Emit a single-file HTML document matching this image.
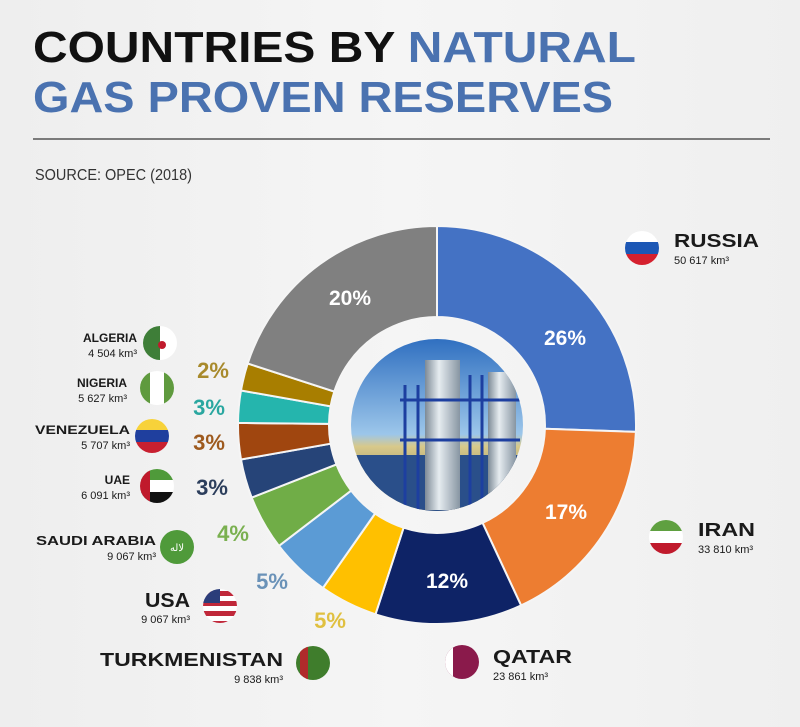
<!DOCTYPE html>
<html><head><meta charset="utf-8"><style>
html,body{margin:0;padding:0;background:#f1f1f1;}
svg{display:block;font-family:"Liberation Sans",sans-serif;}
</style></head><body>
<svg width="800" height="727" viewBox="0 0 800 727" xmlns="http://www.w3.org/2000/svg">
<defs>
<linearGradient id="bg" x1="0" x2="1"><stop offset="0" stop-color="#eeeeee"/><stop offset="0.5" stop-color="#f5f5f5"/><stop offset="1" stop-color="#efefef"/></linearGradient>
<linearGradient id="sky" x1="0" y1="0" x2="0" y2="1"><stop offset="0" stop-color="#2f6fc0"/><stop offset="0.55" stop-color="#9cc6ea"/><stop offset="0.62" stop-color="#d8c98a"/><stop offset="1" stop-color="#6b6a55"/></linearGradient>
<linearGradient id="tank" x1="0" x2="1"><stop offset="0" stop-color="#7d8a96"/><stop offset="0.4" stop-color="#e6ecf0"/><stop offset="1" stop-color="#8795a2"/></linearGradient>
<clipPath id="ci"><circle cx="437" cy="425" r="86"/></clipPath>
<clipPath id="fRU"><circle cx="642" cy="248" r="17"/></clipPath>
<clipPath id="fIR"><circle cx="666" cy="537" r="17"/></clipPath>
<clipPath id="fQA"><circle cx="462" cy="662" r="17"/></clipPath>
<clipPath id="fTM"><circle cx="313" cy="663" r="17"/></clipPath>
<clipPath id="fUS"><circle cx="220" cy="606" r="17"/></clipPath>
<clipPath id="fAE"><circle cx="157" cy="486" r="17"/></clipPath>
<clipPath id="fVE"><circle cx="152" cy="436" r="17"/></clipPath>
<clipPath id="fNG"><circle cx="157" cy="388" r="17"/></clipPath>
<clipPath id="fDZ"><circle cx="160" cy="343" r="17"/></clipPath>
</defs>
<rect width="800" height="727" fill="url(#bg)"/>

<text x="33" y="62" font-size="44" font-weight="bold" fill="#111" textLength="603" lengthAdjust="spacingAndGlyphs">COUNTRIES BY <tspan fill="#4a72b0">NATURAL</tspan></text>
<text x="33" y="112" font-size="44" font-weight="bold" fill="#4a72b0" textLength="580" lengthAdjust="spacingAndGlyphs">GAS PROVEN RESERVES</text>
<line x1="33" y1="139" x2="770" y2="139" stroke="#555" stroke-width="1.5"/>
<text x="35" y="180" font-size="16" fill="#333" textLength="157" lengthAdjust="spacingAndGlyphs">SOURCE: OPEC (2018)</text>

<g stroke="#f5f5f5" stroke-width="2">
<path d="M437,226 A199,199 0 0 1 635.9,431.9 L544.9,428.8 A108,108 0 0 0 437,317 Z" fill="#4472c4"/>
<path d="M635.9,431.9 A199,199 0 0 1 521.1,605.4 L482.6,522.9 A108,108 0 0 0 544.9,428.8 Z" fill="#ed7d31"/>
<path d="M521.1,605.4 A199,199 0 0 1 375.5,614.3 L403.6,527.7 A108,108 0 0 0 482.6,522.9 Z" fill="#0e2366"/>
<path d="M375.5,614.3 A199,199 0 0 1 322.9,588.0 L375.1,513.5 A108,108 0 0 0 403.6,527.7 Z" fill="#ffc000"/>
<path d="M322.9,588.0 A199,199 0 0 1 278.9,545.9 L351.2,490.6 A108,108 0 0 0 375.1,513.5 Z" fill="#5b9bd5"/>
<path d="M278.9,545.9 A199,199 0 0 1 251.7,497.6 L336.4,464.4 A108,108 0 0 0 351.2,490.6 Z" fill="#70ad47"/>
<path d="M251.7,497.6 A199,199 0 0 1 241.0,459.5 L330.6,443.7 A108,108 0 0 0 336.4,464.4 Z" fill="#264478"/>
<path d="M241.0,459.5 A199,199 0 0 1 238.0,422.9 L329.0,423.9 A108,108 0 0 0 330.6,443.7 Z" fill="#a0460f"/>
<path d="M238.0,422.9 A199,199 0 0 1 241.0,390.5 L330.6,406.3 A108,108 0 0 0 329.0,423.9 Z" fill="#25b5ad"/>
<path d="M241.0,390.5 A199,199 0 0 1 247.7,363.5 L334.3,391.6 A108,108 0 0 0 330.6,406.3 Z" fill="#a87e00"/>
<path d="M247.7,363.5 A199,199 0 0 1 437,226 L437,317 A108,108 0 0 0 334.3,391.6 Z" fill="#808080"/>
</g>

<g clip-path="url(#ci)">
<rect x="350" y="338" width="175" height="175" fill="url(#sky)"/>
<rect x="350" y="455" width="175" height="60" fill="#2a4f8a"/>
<rect x="425" y="360" width="35" height="150" fill="url(#tank)"/>
<rect x="488" y="372" width="28" height="140" fill="url(#tank)"/>
<g stroke="#1d3fa0" stroke-width="3" fill="none">
<line x1="405" y1="385" x2="405" y2="510"/><line x1="418" y1="385" x2="418" y2="510"/>
<line x1="470" y1="375" x2="470" y2="510"/><line x1="482" y1="375" x2="482" y2="510"/>
<line x1="400" y1="400" x2="520" y2="400"/><line x1="400" y1="440" x2="520" y2="440"/>
</g>
</g>

<g font-weight="bold" fill="#fff" font-size="21" text-anchor="middle">
<text x="350" y="305">20%</text><text x="565" y="345">26%</text><text x="566" y="519">17%</text><text x="447" y="588">12%</text>
</g>
<g font-weight="bold" font-size="22" text-anchor="middle">
<text x="213" y="378" fill="#a88a2c">2%</text>
<text x="209" y="415" fill="#2aa7a0">3%</text>
<text x="209" y="450" fill="#9e5a1e">3%</text>
<text x="212" y="495" fill="#2c3e5c">3%</text>
<text x="233" y="541" fill="#7ab050">4%</text>
<text x="272" y="589" fill="#6a92b8">5%</text>
<text x="330" y="628" fill="#e0c040">5%</text>
</g>

<g clip-path="url(#fRU)"><rect x="620" y="230" width="45" height="12" fill="#fff"/><rect x="620" y="242" width="45" height="12" fill="#1c57b5"/><rect x="620" y="254" width="45" height="14" fill="#d5202e"/></g>
<g clip-path="url(#fIR)"><rect x="645" y="519" width="45" height="12" fill="#5fa040"/><rect x="645" y="531" width="45" height="12" fill="#fff"/><rect x="645" y="543" width="45" height="14" fill="#c01a2c"/></g>
<g clip-path="url(#fQA)"><rect x="440" y="640" width="45" height="45" fill="#8a1a4b"/><rect x="440" y="640" width="13" height="45" fill="#fff"/></g>
<g clip-path="url(#fTM)"><rect x="290" y="640" width="45" height="45" fill="#3f7d2c"/><rect x="300" y="640" width="8" height="45" fill="#b02b2b"/></g>
<g clip-path="url(#fUS)"><rect x="200" y="586" width="45" height="45" fill="#fff"/><rect x="200" y="591" width="45" height="5" fill="#c0283a"/><rect x="200" y="601" width="45" height="5" fill="#c0283a"/><rect x="200" y="611" width="45" height="5" fill="#c0283a"/><rect x="200" y="621" width="45" height="5" fill="#c0283a"/><rect x="200" y="586" width="20" height="17" fill="#2b3d7a"/></g>
<circle cx="177" cy="547" r="17" fill="#4f9a3a"/><text x="177" y="551" font-size="10" fill="#fff" text-anchor="middle">ﻻﻟﻪ</text>
<g clip-path="url(#fAE)"><rect x="140" y="468" width="45" height="12" fill="#4f9a3a"/><rect x="140" y="480" width="45" height="12" fill="#fff"/><rect x="140" y="492" width="45" height="14" fill="#111"/><rect x="138" y="468" width="12" height="40" fill="#c01a2c"/></g>
<g clip-path="url(#fVE)"><rect x="133" y="418" width="45" height="12" fill="#f7d23a"/><rect x="133" y="430" width="45" height="12" fill="#1f3f9e"/><rect x="133" y="442" width="45" height="14" fill="#c82030"/></g>
<g clip-path="url(#fNG)"><rect x="138" y="370" width="45" height="40" fill="#fff"/><rect x="138" y="370" width="12" height="40" fill="#5f9a3e"/><rect x="164" y="370" width="20" height="40" fill="#5f9a3e"/></g>
<g clip-path="url(#fDZ)"><rect x="140" y="325" width="45" height="40" fill="#fff"/><rect x="140" y="325" width="20" height="40" fill="#3e7e38"/><circle cx="162" cy="345" r="4" fill="#c01a2c"/></g>

<g fill="#1a1a1a">
<text x="674" y="247" font-size="18" font-weight="bold" textLength="85" lengthAdjust="spacingAndGlyphs">RUSSIA</text>
<text x="674" y="264" font-size="11">50 617 km³</text>
<text x="698" y="536" font-size="18" font-weight="bold" textLength="57" lengthAdjust="spacingAndGlyphs">IRAN</text>
<text x="698" y="553" font-size="11">33 810 km³</text>
<text x="493" y="663" font-size="18" font-weight="bold" textLength="79" lengthAdjust="spacingAndGlyphs">QATAR</text>
<text x="493" y="680" font-size="11">23 861 km³</text>
</g>
<g fill="#1a1a1a" text-anchor="end">
<text x="283" y="666" font-size="18" font-weight="bold" textLength="183" lengthAdjust="spacingAndGlyphs">TURKMENISTAN</text>
<text x="283" y="683" font-size="11">9 838 km³</text>
<text x="190" y="607" font-size="20" font-weight="bold" textLength="45" lengthAdjust="spacingAndGlyphs">USA</text>
<text x="190" y="623" font-size="11">9 067 km³</text>
<text x="156" y="545" font-size="13" font-weight="bold" textLength="120" lengthAdjust="spacingAndGlyphs">SAUDI ARABIA</text>
<text x="156" y="560" font-size="11">9 067 km³</text>
<text x="130" y="484" font-size="12" font-weight="bold">UAE</text>
<text x="130" y="499" font-size="11">6 091 km³</text>
<text x="130" y="434" font-size="12" font-weight="bold" textLength="95" lengthAdjust="spacingAndGlyphs">VENEZUELA</text>
<text x="130" y="449" font-size="11">5 707 km³</text>
<text x="127" y="387" font-size="12" font-weight="bold">NIGERIA</text>
<text x="127" y="402" font-size="11">5 627 km³</text>
<text x="137" y="342" font-size="12" font-weight="bold">ALGERIA</text>
<text x="137" y="357" font-size="11">4 504 km³</text>
</g>
</svg>
</body></html>
